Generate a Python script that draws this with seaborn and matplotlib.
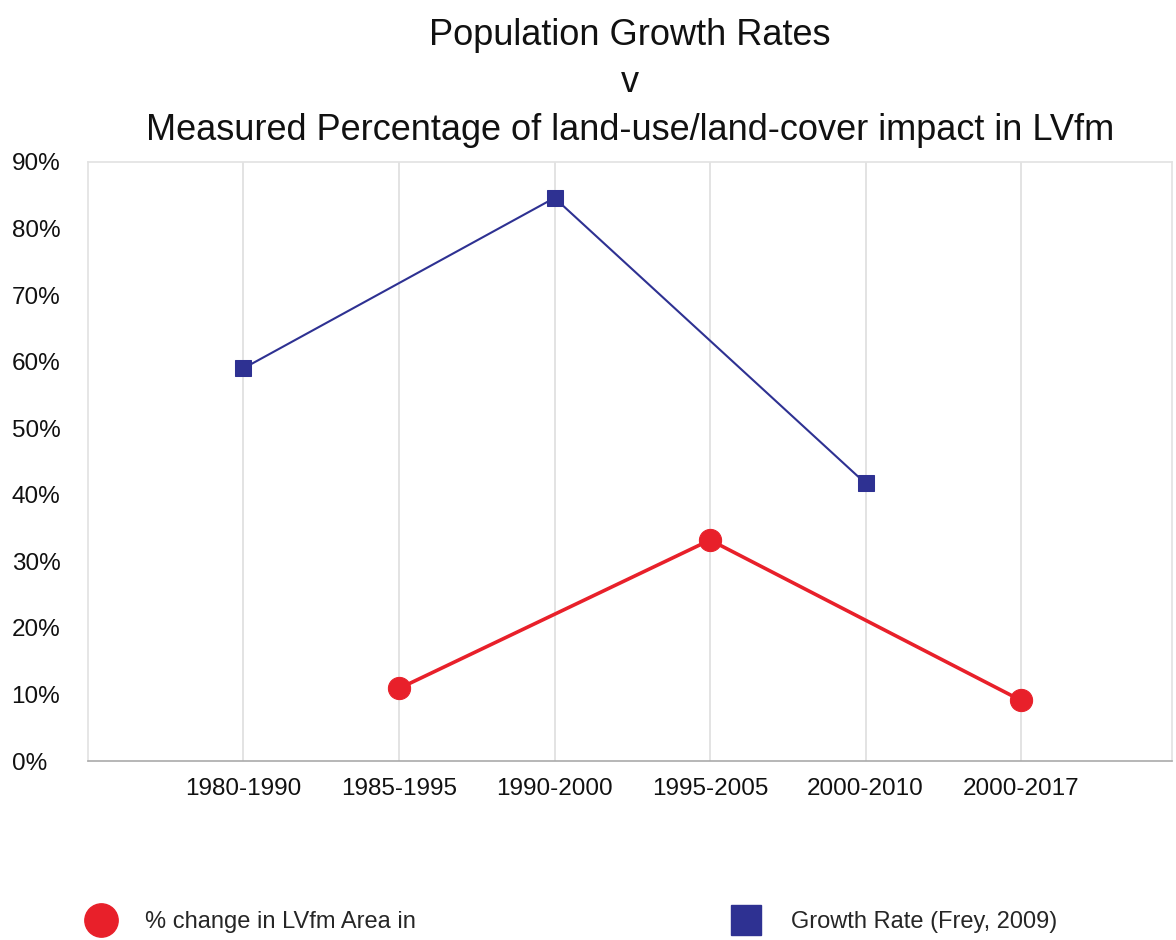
import numpy as np
import pandas as pd
import seaborn as sns
import matplotlib.pyplot as plt
from matplotlib.lines import Line2D
from matplotlib.ticker import PercentFormatter

# data
periods = ["1980-1990", "1985-1995", "1990-2000", "1995-2005", "2000-2010", "2000-2017"]
lvfm_change = [np.nan, 10.9, np.nan, 33.2, np.nan, 9.1]
growth_rate = [59.0, np.nan, 84.6, np.nan, 41.7, np.nan]
yticks = list(range(0, 100, 10))

red = "#e8202a"
blue = "#2e3192"

df = pd.DataFrame({"pos": np.arange(len(periods)), "period": periods,
                   "lvfm": lvfm_change, "growth": growth_rate})

sns.set_theme(style="white")
plt.rcParams["font.family"] = ["Liberation Sans", "DejaVu Sans"]

fig = plt.figure(figsize=(11.76, 9.4), dpi=100)
ax = fig.add_axes([0.0748, 0.1904, 0.9218, 0.6373])

g = df.dropna(subset=["growth"])
sns.lineplot(data=g, x="pos", y="growth", ax=ax, color=blue, linewidth=1.5,
             marker="s", markersize=12, markeredgecolor=blue, zorder=3)
r = df.dropna(subset=["lvfm"])
sns.lineplot(data=r, x="pos", y="lvfm", ax=ax, color=red, linewidth=2.6,
             marker="o", markersize=16, markeredgecolor=red, zorder=3)

ax.set_xlim(-1, 5.97)
ax.set_ylim(0, 90)
ax.set_yticks(yticks)
ax.yaxis.set_major_formatter(PercentFormatter(decimals=0))
ax.set_xticks(df["pos"])
ax.set_xticklabels(periods)
ax.tick_params(axis="both", labelsize=17.5, colors="#111111", length=0)
ax.tick_params(axis="x", pad=12)
ax.tick_params(axis="y", pad=55)
for lab in ax.get_yticklabels():
    lab.set_horizontalalignment("left")
ax.set_xlabel("")
ax.set_ylabel("")

ax.grid(axis="x", color="#dedede", linewidth=1.2)
for side in ["top", "left", "right"]:
    ax.spines[side].set_color("#e2e2e2")
    ax.spines[side].set_linewidth(1.2)
ax.spines["bottom"].set_color("#aaaaaa")
ax.spines["bottom"].set_linewidth(1.2)

ax.set_title("Population Growth Rates\nv\nMeasured Percentage of land-use/land-cover impact in LVfm",
             fontsize=26, linespacing=1.46, pad=16, color="#111111")

h_red = Line2D([], [], color=red, marker="o", linestyle="none", markersize=24)
h_blue = Line2D([], [], color=blue, marker="s", linestyle="none", markersize=21)
fig.legend([h_red], ["% change in LVfm Area in"], loc="center left",
           bbox_to_anchor=(0.048, 0.019), frameon=False, fontsize=17, handletextpad=0.85)
fig.legend([h_blue], ["Growth Rate (Frey, 2009)"], loc="center left",
           bbox_to_anchor=(0.596, 0.019), frameon=False, fontsize=17, handletextpad=0.9)

fig.savefig("out.png", dpi=100)
